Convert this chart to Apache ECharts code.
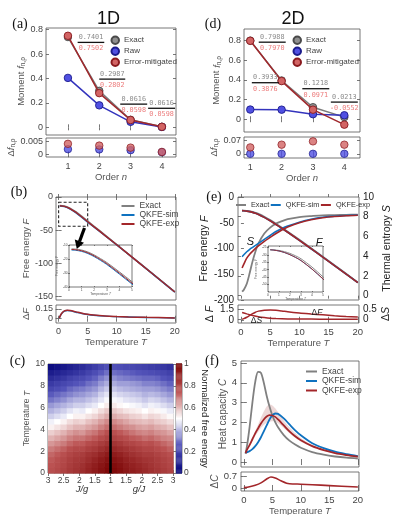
<!DOCTYPE html>
<html><head><meta charset="utf-8">
<script src="https://cdn.jsdelivr.net/npm/echarts@6.0.0/dist/echarts.min.js"></script>
<style>html,body{margin:0;padding:0;background:#fff}#c{width:397px;height:515px}</style>
</head><body><div id="c"></div>
<script>
// ---------- DATA ----------
const orders = [1, 2, 3, 4];
// (a) 1D moments
const exact1D = [0.7401, 0.2987, 0.0616, 0.004];
const raw1D = [0.405, 0.180, 0.045, 0.003];
const mitig1D = [0.7502, 0.2802, 0.0598, 0.004];
const dRaw1D = [0.0020, 0.0019, 0.0016, 0.0008];
const dMitig1D = [0.0041, 0.0034, 0.0026, 0.0009];
const labels1D = [['0.7401', '0.7502'], ['0.2987', '0.2802'], ['0.0616', '0.0598'], ['0.0616', '0.0598']];
// (d) 2D moments
const exact2D = [0.7988, 0.3933, 0.1218, 0.0213];
const raw2D = [0.098, 0.097, 0.051, 0.040];
const mitig2D = [0.7970, 0.3876, 0.0971, -0.0552];
const dRaw2D = [0.001, 0.001, 0.001, 0.001];
const dMitig2D = [0.034, 0.048, 0.065, 0.048];
const labels2D = [['0.7988', '0.7970'], ['0.3933', '0.3876'], ['0.1218', '0.0971'], ['0.0213', '-0.0552']];
// (b) 1D free energy
const temps1D = [0.2, 0.5, 1, 1.5, 2, 2.5, 3, 4, 5, 6, 7, 8, 10, 12, 14, 16, 18, 20];
const fExact1D = [-12.8, -12.9, -13.6, -15.0, -17.1, -19.7, -22.5, -29.2, -36.2, -43.3, -50.4, -57.5, -71.6, -85.8, -100.0, -114.2, -128.5, -142.8];
const fExp1D = [-13.2, -13.35, -14.1, -15.6, -17.75, -20.4, -23.3, -30.1, -37.2, -44.2, -51.1, -58.0, -71.9, -86.0, -100.2, -114.4, -128.7, -143.0];
const fSim1D = [-13.6, -13.75, -14.55, -16.1, -18.3, -21.0, -23.9, -30.8, -37.9, -44.7, -51.5, -58.3, -72.1, -86.1, -100.3, -114.5, -128.8, -143.1];
const tempsDF1D = [0.1, 0.5, 1, 1.5, 2, 3, 4, 5, 6, 8, 10, 12, 15, 20];
const dFExp1D = [0.01, 0.08, 0.12, 0.13, 0.125, 0.105, 0.085, 0.068, 0.056, 0.042, 0.034, 0.028, 0.021, 0.013];
const dFSim1D = [0.01, 0.075, 0.115, 0.125, 0.12, 0.10, 0.08, 0.065, 0.054, 0.04, 0.032, 0.027, 0.02, 0.012];
// (e) 2D free energy and entropy
const temps2D = [0.2, 0.5, 1, 1.5, 2, 2.5, 3, 4, 5, 6, 7, 8, 10, 12, 14, 16, 18, 20];
const fExact2D = [-26.5, -26.6, -27.0, -27.8, -29.0, -30.6, -32.6, -38.2, -44.8, -52.0, -59.5, -67.3, -83.2, -99.6, -116.0, -132.6, -149.2, -165.9];
const fExp2D = [-26.55, -26.75, -27.35, -28.4, -29.85, -31.65, -33.8, -39.53, -46.16, -53.32, -60.72, -68.4, -84.13, -100.4, -116.68, -133.15, -149.65, -166.27];
const fSim2D = [-26.55, -26.76, -27.37, -28.43, -29.89, -31.7, -33.86, -39.6, -46.23, -53.39, -60.78, -68.46, -84.18, -100.44, -116.71, -133.18, -149.67, -166.29];
const sExact2D = [0.4, 0.6, 1.2, 2.3, 3.5, 4.5, 5.3, 6.3, 6.9, 7.3, 7.55, 7.75, 7.97, 8.07, 8.13, 8.17, 8.19, 8.21];
const sSim2D = [3.95, 4.15, 4.45, 4.7, 4.9, 5.1, 5.3, 5.7, 6.1, 6.5, 6.8, 7.05, 7.45, 7.75, 7.95, 8.05, 8.12, 8.17];
const sExp2D = [2.8, 3.2, 3.8, 4.2, 4.5, 4.8, 5.05, 5.5, 5.9, 6.3, 6.65, 6.95, 7.4, 7.7, 7.9, 8.02, 8.1, 8.15];
const dF2D = [0.05, 0.15, 0.35, 0.6, 0.85, 1.05, 1.2, 1.33, 1.36, 1.32, 1.22, 1.1, 0.93, 0.8, 0.68, 0.55, 0.45, 0.37];
const tempsDS2D = [0.2, 1, 2, 3, 4, 5, 6, 8, 10, 12, 15, 20];
const dS2D = [0.33, 0.27, 0.2, 0.14, 0.1, 0.07, 0.055, 0.04, 0.035, 0.03, 0.027, 0.025];
// (c) normalized free energy map: columns of rows (T = tempRows)
const tempRows = [0.25, 0.75, 1.25, 1.75, 2.25, 2.75, 3.25, 3.75, 4.25, 4.75, 5.25, 5.75, 6.25, 6.75, 7.25, 7.75, 8.25, 8.75, 9.25, 9.75];
const ratioLeft = [2.9, 2.7, 2.5, 2.3, 2.1, 1.9, 1.7, 1.5, 1.3, 1.1];   // J/g
const ratioRight = [1.1, 1.3, 1.5, 1.7, 1.9, 2.1, 2.3, 2.5, 2.7, 2.9];  // g/J
const heatLeft = [
  [.76,.75,.74,.72,.69,.65,.61,.57,.52,.48,.43,.39,.35,.30,.26,.21,.17,.12,.07,.02],
  [.78,.77,.76,.74,.71,.67,.63,.59,.54,.50,.45,.41,.37,.32,.28,.23,.19,.14,.09,.04],
  [.80,.79,.78,.76,.73,.69,.65,.61,.56,.52,.47,.43,.39,.34,.30,.25,.21,.16,.11,.06],
  [.83,.82,.81,.79,.76,.72,.68,.64,.59,.55,.50,.46,.41,.37,.32,.28,.23,.19,.13,.08],
  [.85,.84,.83,.81,.78,.74,.70,.66,.61,.57,.52,.48,.43,.39,.34,.30,.25,.21,.15,.10],
  [.87,.86,.84,.82,.78,.74,.70,.65,.61,.56,.52,.47,.43,.39,.35,.31,.26,.22,.17,.12],
  [.90,.89,.87,.85,.81,.77,.72,.68,.63,.59,.54,.50,.45,.41,.37,.33,.29,.25,.20,.15],
  [.93,.92,.90,.87,.83,.79,.74,.70,.65,.61,.56,.52,.47,.43,.39,.35,.31,.27,.23,.18],
  [.96,.95,.93,.90,.86,.82,.77,.73,.68,.64,.59,.55,.50,.46,.43,.39,.35,.31,.26,.21],
  [.99,.98,.96,.93,.89,.85,.80,.76,.71,.67,.62,.58,.53,.49,.46,.42,.38,.34,.29,.24]
];
const heatRight = [
  [.99,.98,.96,.93,.89,.85,.80,.76,.71,.67,.62,.58,.53,.49,.46,.42,.38,.34,.29,.24],
  [.97,.96,.94,.91,.87,.83,.78,.74,.69,.65,.60,.56,.51,.48,.44,.40,.36,.32,.28,.23],
  [.94,.93,.91,.88,.85,.80,.76,.72,.67,.63,.59,.54,.50,.46,.43,.39,.36,.31,.27,.22],
  [.92,.91,.89,.86,.83,.79,.74,.70,.66,.61,.57,.53,.49,.45,.42,.38,.35,.30,.26,.21],
  [.90,.89,.87,.84,.81,.77,.73,.68,.64,.60,.56,.52,.48,.44,.41,.37,.34,.29,.25,.20],
  [.88,.87,.85,.82,.79,.75,.71,.67,.63,.59,.54,.50,.46,.42,.39,.36,.32,.28,.24,.19],
  [.86,.85,.84,.82,.79,.76,.72,.68,.64,.60,.56,.52,.48,.44,.40,.36,.32,.28,.23,.18],
  [.84,.83,.82,.80,.77,.74,.70,.66,.62,.58,.55,.51,.47,.43,.39,.35,.31,.27,.22,.17],
  [.82,.81,.80,.78,.75,.72,.68,.65,.61,.57,.53,.49,.45,.41,.37,.33,.29,.25,.21,.16],
  [.80,.79,.78,.76,.73,.70,.67,.63,.59,.55,.51,.47,.43,.39,.35,.31,.27,.23,.19,.14]
];
// (f) heat capacity
const tempsC = [0.3, 0.6, 1, 1.5, 2, 2.5, 3, 3.5, 4, 4.5, 5, 5.5, 6, 7, 8, 9, 10, 12, 14, 16, 18, 20];
const cExact = [0.42, 0.9, 1.75, 3.0, 4.05, 4.55, 4.5, 4.0, 3.35, 2.8, 2.35, 2.02, 1.76, 1.36, 1.08, 0.88, 0.72, 0.5, 0.37, 0.28, 0.22, 0.18];
const cSim = [0.48, 0.5, 0.55, 0.65, 0.8, 1.0, 1.25, 1.55, 1.85, 2.15, 2.35, 2.45, 2.43, 2.2, 1.9, 1.6, 1.35, 0.95, 0.7, 0.52, 0.4, 0.3];
const cExp = [0.45, 0.65, 0.85, 1.15, 1.45, 1.7, 1.95, 2.15, 2.3, 2.37, 2.35, 2.28, 2.15, 1.85, 1.55, 1.3, 1.1, 0.8, 0.6, 0.45, 0.35, 0.27];
const cExpLow = [0.43, 0.62, 0.8, 1.07, 1.33, 1.52, 1.72, 1.87, 1.98, 2.04, 2.06, 2.04, 1.96, 1.72, 1.45, 1.22, 1.03, 0.76, 0.57, 0.43, 0.33, 0.25];
const cExpHigh = [0.47, 0.68, 0.9, 1.23, 1.57, 1.9, 2.25, 2.55, 2.8, 2.92, 2.86, 2.72, 2.52, 2.1, 1.76, 1.46, 1.21, 0.85, 0.64, 0.48, 0.37, 0.29];
const tempsDC = [0, 1, 2, 3, 4, 4.75, 5.5, 6.5, 7.5, 8, 10, 12, 15, 20];
const dC = [0.02, 0.07, 0.16, 0.3, 0.52, 0.64, 0.58, 0.42, 0.28, 0.25, 0.22, 0.19, 0.14, 0.06];

// ---------- HELPERS ----------
const zip = (xs, ys) => xs.map((x, i) => [x, ys[i]]);
const FONT = '"Liberation Sans", Arial, sans-serif';
const AXC = '#555';
const GRAY = '#808080', BLUE = '#0f72c0', RED = '#a3262a';

function nm(plain, ital, sub, fs, color) {
  let s = '{a|' + plain + '}';
  if (ital) s += '{i|' + ital + '}';
  if (sub) s += '{s|' + sub + '}';
  return { name: s, style: { fontSize: fs, color: color, fontFamily: FONT, rich: {
    a: { fontSize: fs, color: color, fontFamily: FONT },
    i: { fontSize: fs, color: color, fontStyle: 'italic', fontFamily: FONT },
    s: { fontSize: fs * 0.68, color: color, fontFamily: FONT, verticalAlign: 'bottom', padding: [fs * 0.45, 0, 0, 0] }
  } } };
}

function axis(o) {
  const a = {
    type: 'value', gridIndex: o.grid, min: o.min, max: o.max,
    axisLine: { show: false }, splitLine: { show: false },
    axisTick: { show: !!o.ticks, inside: true, length: o.tickLen || 3, lineStyle: { color: AXC, width: 0.8 } },
    axisLabel: { show: !!o.labels, fontSize: o.fs || 9, color: o.color || '#444', margin: o.margin != null ? o.margin : 4, fontFamily: FONT }
  };
  if (o.ticks) { a.axisTick.customValues = o.ticks; a.axisLabel.customValues = o.ticks; }
  if (o.fmt) a.axisLabel.formatter = o.fmt;
  if (o.position) a.position = o.position;
  if (o.show === false) a.show = false;
  if (o.name) {
    a.name = o.name.name; a.nameLocation = 'middle'; a.nameGap = o.nameGap;
    a.nameTextStyle = o.name.style;
    if (o.nameRotate != null) a.nameRotate = o.nameRotate;
  }
  return a;
}
// mirrored tick-only axis for the opposite side of a boxed frame
function mirror(o, pos) {
  return axis({ grid: o.grid, min: o.min, max: o.max, ticks: o.ticks, tickLen: o.tickLen, position: pos });
}

const grids = [
  { left: 46, top: 28, width: 130, height: 107 },   // 0 a
  { left: 46, top: 138, width: 130, height: 19 },   // 1 a delta
  { left: 244, top: 29, width: 116, height: 103 },  // 2 d
  { left: 244, top: 137, width: 116, height: 21 },  // 3 d delta
  { left: 56, top: 197, width: 120, height: 103 },  // 4 b
  { left: 56, top: 305, width: 120, height: 18 },   // 5 b delta
  { left: 69, top: 245, width: 63, height: 42, backgroundColor: '#fff' }, // 6 b inset
  { left: 238, top: 197, width: 121, height: 103 }, // 7 e
  { left: 238, top: 305, width: 121, height: 18 },  // 8 e delta
  { left: 268, top: 246, width: 55, height: 46, backgroundColor: '#fff' }, // 9 e inset
  { left: 48, top: 364, width: 125, height: 109 },  // 10 c
  { left: 176, top: 364, width: 6, height: 109 },   // 11 colorbar
  { left: 241, top: 361, width: 118, height: 106 }, // 12 f
  { left: 241, top: 472, width: 118, height: 19 }   // 13 f delta
].map(g => Object.assign({ show: true, borderColor: '#555', borderWidth: 0.8, backgroundColor: 'rgba(0,0,0,0)', containLabel: false, outerBoundsMode: 'none' }, g));

const ORD = [1, 2, 3, 4];
const TT = [0, 5, 10, 15, 20];
const nmOrder = nm('Order ', 'n', '', 9.5, '#555');
const nmTemp = nm('Temperature ', 'T', '', 9.5, '#555');
const nmTempTiny = nm('Temperature ', 'T', '', 3.2, '#555');
const nmFTiny = nm('Free energy ', 'F', '', 3.2, '#555');

const xDefs = [
  { grid: 0, min: 0.3, max: 4.45, ticks: ORD },
  { grid: 1, min: 0.3, max: 4.45, ticks: ORD, labels: true, margin: 5, name: nmOrder, nameGap: 13 },
  { grid: 2, min: 0.8, max: 4.5, ticks: ORD },
  { grid: 3, min: 0.8, max: 4.5, ticks: ORD, labels: true, margin: 5, name: nmOrder, nameGap: 12 },
  { grid: 4, min: -0.45, max: 20.2, ticks: TT },
  { grid: 5, min: -0.45, max: 20.2, ticks: TT, labels: true, margin: 4, name: nmTemp, nameGap: 12 },
  { grid: 6, min: 0, max: 5, ticks: [0, 1, 2, 3, 4, 5], labels: true, fs: 3.2, margin: 1.5, tickLen: 1, name: nmTempTiny, nameGap: 5 },
  { grid: 7, min: -0.5, max: 20.2, ticks: TT },
  { grid: 8, min: -0.5, max: 20.2, ticks: TT, labels: true, margin: 4, fs: 9.5, name: nmTemp, nameGap: 12 },
  { grid: 9, min: 0, max: 5, ticks: [0, 1, 2, 3, 4, 5], labels: true, fs: 3.2, margin: 1.5, tickLen: 1, name: nmTempTiny, nameGap: 5 },
  { grid: 10, min: -2, max: 2, ticks: [-2, -1.5, -1, -0.5, 0, 0.5, 1, 1.5, 2], labels: true, fs: 8.5, margin: 3, fmt: v => String(1 + Math.abs(v)) },
  { grid: 11, min: 0, max: 1, show: false },
  { grid: 12, min: -0.5, max: 20.2, ticks: TT },
  { grid: 13, min: -0.5, max: 20.2, ticks: TT, labels: true, margin: 4, fs: 9.5, name: nmTemp, nameGap: 12 }
];

const nmMoment = nm('Moment ', 'f', 'n,ρ', 9.5, '#555');
const nmDMoment = nm('Δ', 'f', 'n,ρ', 9.5, '#555');
const yDefs = [
  { grid: 0, min: -0.063, max: 0.814, ticks: [0, 0.2, 0.4, 0.6, 0.8], labels: true, margin: 3, name: nmMoment, nameGap: 16 },
  { grid: 1, min: -0.0011, max: 0.0064, ticks: [0, 0.005], labels: true, margin: 3, name: nmDMoment, nameGap: 20 },
  { grid: 2, min: -0.13, max: 0.917, ticks: [0, 0.2, 0.4, 0.6, 0.8], labels: true, margin: 3, name: nmMoment, nameGap: 22 },
  { grid: 3, min: -0.0206, max: 0.0875, ticks: [0, 0.07], labels: true, margin: 3, name: nmDMoment, nameGap: 22 },
  { grid: 4, min: -155, max: 0, ticks: [-150, -100, -50, 0], labels: true, margin: 3, name: nm('Free energy ', 'F', '', 9.5, '#555'), nameGap: 25 },
  { grid: 5, min: -0.065, max: 0.21, ticks: [0, 0.15], labels: true, margin: 3, name: nm('Δ', 'F', '', 9.5, '#555'), nameGap: 25 },
  { grid: 6, min: -40, max: -10, ticks: [-40, -30, -20, -10], labels: true, fs: 3.2, margin: 1.5, tickLen: 1, name: nmFTiny, nameGap: 7 },
  { grid: 7, min: -200, max: 0, ticks: [-200, -150, -100, -50, 0], labels: true, fs: 10, color: '#222', margin: 4, name: nm('Free energy ', 'F', '', 10.5, '#222'), nameGap: 22 },
  { grid: 7, min: -0.44, max: 10, ticks: [0, 2, 4, 6, 8, 10], labels: true, fs: 10, color: '#222', margin: 4, position: 'right', name: nm('Thermal entropy ', 'S', '', 10.5, '#222'), nameGap: 23 },
  { grid: 8, min: -0.45, max: 2.05, ticks: [0, 1.5], labels: true, fs: 10, color: '#222', margin: 4, name: nm('Δ ', 'F', '', 10.5, '#222'), nameGap: 22 },
  { grid: 8, min: -0.15, max: 0.68, ticks: [0, 0.5], labels: true, fs: 10, color: '#222', margin: 4, position: 'right', name: nm('Δ', 'S', '', 10.5, '#222'), nameGap: 22 },
  { grid: 9, min: -55, max: -24, ticks: [-50, -45, -40, -35, -30, -25], labels: true, fs: 3.2, margin: 1.5, tickLen: 1, name: nmFTiny, nameGap: 7 },
  { grid: 10, min: 0, max: 10, ticks: [0, 2, 4, 6, 8, 10], labels: true, fs: 8.5, margin: 3, name: nm('Temperature ', 'T', '', 8.5, '#555'), nameGap: 11 },
  { grid: 11, min: 0, max: 1, ticks: [0, 0.2, 0.4, 0.6, 0.8, 1], labels: true, fs: 8.5, margin: 2, position: 'right', name: nm('Normalized free energy', '', '', 9.5, '#222'), nameGap: 15, nameRotate: -90 },
  { grid: 12, min: -0.25, max: 5.1, ticks: [0, 1, 2, 3, 4, 5], labels: true, fs: 9.5, margin: 4, name: nm('Heat capacity ', 'C', '', 10, '#555'), nameGap: 6 },
  { grid: 13, min: -0.175, max: 0.93, ticks: [0, 0.7], labels: true, fs: 9.5, margin: 4, name: nm('Δ', 'C', '', 10, '#555'), nameGap: 20 }
];
const xAxes = xDefs.map(axis);
const yAxes = yDefs.map(axis);
// box ticks on the opposite sides (top / right), as in the boxed frames of the figure
xDefs.forEach(d => { if (d.ticks && d.grid !== 11) xAxes.push(mirror(d, 'top')); });
yDefs.forEach(d => { if (d.ticks && !d.position && d.grid !== 7 && d.grid !== 8 && d.grid !== 11) yAxes.push(mirror(d, 'right')); });

// marker styles
const MK = {
  'Exact': { line: '#7a7a7a', fill: '#8f8f8f', edge: '#4a4a4a' },
  'Raw': { line: '#3434bd', fill: '#5050e2', edge: '#1c1c8c' },
  'Error-mitigated': { line: '#a0282c', fill: '#d26464', edge: '#8a1a1e' }
};
function momentLine(name, xi, yi, data, z) {
  const m = MK[name];
  return { type: 'line', name, xAxisIndex: xi, yAxisIndex: yi, data, symbol: 'circle', symbolSize: 7.5, z,
    lineStyle: { color: m.line, width: 1.5 }, itemStyle: { color: m.fill, borderColor: m.edge, borderWidth: 0.9 } };
}
function momentDots(name, xi, yi, data, z) {
  const m = MK[name];
  return { type: 'scatter', name, xAxisIndex: xi, yAxisIndex: yi, data, symbol: 'circle', symbolSize: 7.5, z,
    itemStyle: { color: m.fill, borderColor: m.edge, borderWidth: 0.9 } };
}
const MONO = '6.8px "DejaVu Sans Mono", "Liberation Mono", monospace';
function annSeries(xi, yi, pos, labels) {
  return { type: 'custom', xAxisIndex: xi, yAxisIndex: yi, silent: true, z: 6, clip: false,
    data: pos.map((p, i) => [p[0], p[1], p[2], i]),
    renderItem(params, api) {
      const a = api.coord([api.value(0), api.value(2)]);
      const b = api.coord([api.value(1), api.value(2)]);
      const i = api.value(3); const cx = (a[0] + b[0]) / 2;
      return { type: 'group', children: [
        { type: 'line', shape: { x1: a[0], y1: a[1], x2: b[0], y2: b[1] }, style: { stroke: '#111', lineWidth: 1.3 } },
        { type: 'text', style: { x: cx, y: a[1] - 1.8, text: labels[i][0], fill: '#8a8a8a', font: MONO, align: 'center', verticalAlign: 'bottom' } },
        { type: 'text', style: { x: cx, y: a[1] + 2.8, text: labels[i][1], fill: '#ec7b7b', font: MONO, align: 'center', verticalAlign: 'top' } }
      ] };
    } };
}
function curve(name, xi, yi, data, color, width, z, smooth) {
  return { type: 'line', name, xAxisIndex: xi, yAxisIndex: yi, data, showSymbol: false, symbol: 'none',
    smooth: smooth || false, z, lineStyle: { color, width: width || 1.6 }, itemStyle: { color } };
}
function band(xi, yi, xs, lo, hi, fill) {
  return { type: 'custom', xAxisIndex: xi, yAxisIndex: yi, silent: true, z: 1, data: [[xs[0], lo[0]]],
    renderItem(params, api) {
      const top = xs.map((x, i) => api.coord([x, hi[i]]));
      const bot = xs.map((x, i) => api.coord([x, lo[i]])).reverse();
      return { type: 'polygon', shape: { points: top.concat(bot), smooth: 0.2 }, style: { fill } };
    } };
}

const series = [];
// (a)
series.push(momentLine('Exact', 0, 0, zip(orders, exact1D), 3));
series.push(momentLine('Raw', 0, 0, zip(orders, raw1D), 4));
series.push(momentLine('Error-mitigated', 0, 0, zip(orders, mitig1D), 5));
series.push(momentDots('Raw', 1, 1, zip(orders, dRaw1D), 4));
series.push(momentDots('Error-mitigated', 1, 1, zip(orders, dMitig1D), 5));
series.push(annSeries(0, 0, [[1.31, 2.16, 0.696], [2.0, 2.83, 0.395], [2.67, 3.53, 0.19], [3.56, 4.42, 0.156]], labels1D));
// (d)
series.push(momentLine('Exact', 2, 2, zip(orders, exact2D), 3));
series.push(momentLine('Raw', 2, 2, zip(orders, raw2D), 4));
series.push(momentLine('Error-mitigated', 2, 2, zip(orders, mitig2D), 5));
series.push(momentDots('Raw', 3, 3, zip(orders, dRaw2D), 4));
series.push(momentDots('Error-mitigated', 3, 3, zip(orders, dMitig2D), 5));
series.push(annSeries(2, 2, [[1.27, 2.13, 0.783], [1.05, 1.91, 0.371], [2.66, 3.52, 0.31], [3.57, 4.43, 0.174]], labels2D));
// (b)
const fb = curve('Exact', 4, 4, zip(temps1D, fExact1D), GRAY, 1.6, 3);
fb.markArea = { silent: true, itemStyle: { color: 'rgba(0,0,0,0)', borderColor: '#222', borderWidth: 1.1, borderType: [3, 2] },
  data: [[{ coord: [0, -8] }, { coord: [5, -44] }]] };
series.push(fb);
series.push(curve('QKFE-sim', 4, 4, zip(temps1D, fSim1D), BLUE, 1.4, 4));
series.push(curve('QKFE-exp', 4, 4, zip(temps1D, fExp1D), RED, 1.5, 5));
series.push(curve('QKFE-sim', 5, 5, zip(tempsDF1D, dFSim1D), BLUE, 1.4, 4, 0.3));
series.push(curve('QKFE-exp', 5, 5, zip(tempsDF1D, dFExp1D), RED, 1.5, 5, 0.3));
series.push(curve('Exact', 6, 6, zip(temps1D, fExact1D), GRAY, 1, 7, 0.3));
series.push(curve('QKFE-sim', 6, 6, zip(temps1D, fSim1D), BLUE, 1, 7, 0.3));
series.push(curve('QKFE-exp', 6, 6, zip(temps1D, fExp1D), RED, 1, 7, 0.3));
// (e)
series.push(curve('Exact', 7, 7, zip(temps2D, fExact2D), GRAY, 1.8, 3, 0.2));
series.push(curve('QKFE-sim', 7, 7, zip(temps2D, fSim2D), BLUE, 1.6, 4, 0.2));
series.push(curve('QKFE-exp', 7, 7, zip(temps2D, fExp2D), RED, 1.6, 5, 0.2));
series.push(curve('Exact', 7, 8, zip(temps2D, sExact2D), GRAY, 1.8, 3, 0.3));
series.push(curve('QKFE-sim', 7, 8, zip(temps2D, sSim2D), BLUE, 1.6, 4, 0.3));
series.push(curve('QKFE-exp', 7, 8, zip(temps2D, sExp2D), RED, 1.6, 5, 0.3));
series.push(curve('QKFE-exp', 8, 9, zip(temps2D, dF2D), RED, 1.5, 5, 0.3));
series.push(curve('QKFE-exp', 8, 10, zip(tempsDS2D, dS2D), RED, 1.5, 5, 0.3));
series.push(curve('Exact', 9, 11, zip(temps2D, fExact2D), GRAY, 0.9, 7, 0.3));
series.push(curve('QKFE-sim', 9, 11, zip(temps2D, fSim2D), BLUE, 0.9, 7, 0.3));
series.push(curve('QKFE-exp', 9, 11, zip(temps2D, fExp2D), RED, 0.9, 7, 0.3));
// (c)
const heatData = [];
ratioLeft.forEach((r, c) => tempRows.forEach((t, k) => heatData.push([-(r - 1), t, heatLeft[c][k]])));
ratioRight.forEach((r, c) => tempRows.forEach((t, k) => heatData.push([r - 1, t, heatRight[c][k]])));
const heatIdx = series.length;
series.push({ type: 'custom', xAxisIndex: 10, yAxisIndex: 12, silent: true, z: 2, data: heatData,
  encode: { x: 0, y: 1 },
  renderItem(params, api) {
    const a = api.coord([api.value(0) - 0.1, api.value(1) + 0.25]);
    const b = api.coord([api.value(0) + 0.1, api.value(1) - 0.25]);
    return { type: 'rect', shape: { x: a[0], y: a[1], width: b[0] - a[0] + 0.6, height: b[1] - a[1] + 0.6 }, style: { fill: api.visual('color') } };
  } });
series.push({ type: 'line', xAxisIndex: 10, yAxisIndex: 12, data: [[0, 0], [0, 10]], symbol: 'none', z: 5, silent: true,
  lineStyle: { color: '#000', width: 2.6 } });
const cbarIdx = series.length;
const cbarSteps = [];
for (let k = 0; k <= 100; k++) cbarSteps.push([0.5, k / 100, k / 100]);
series.push({ type: 'custom', xAxisIndex: 11, yAxisIndex: 13, silent: true, data: cbarSteps, encode: { x: 0, y: 1 },
  renderItem(params, api) {
    const a = api.coord([0, api.value(1) + 0.006]);
    const b = api.coord([1, api.value(1) - 0.006]);
    return { type: 'rect', shape: { x: a[0], y: a[1], width: b[0] - a[0], height: b[1] - a[1] }, style: { fill: api.visual('color') } };
  } });
// (f)
series.push(band(12, 14, tempsC, cExpLow, cExpHigh, 'rgba(200,135,135,0.32)'));
series.push(curve('Exact', 12, 14, zip(tempsC, cExact), GRAY, 1.8, 3, 0.3));
series.push(curve('QKFE-sim', 12, 14, zip(tempsC, cSim), BLUE, 1.8, 4, 0.3));
series.push(curve('QKFE-exp', 12, 14, zip(tempsC, cExp), RED, 1.8, 5, 0.3));
series.push(curve('QKFE-exp', 13, 15, zip(tempsDC, dC), RED, 1.6, 5, 0.3));

// legends
const circLeg = (left, top) => ({ left, top, orient: 'vertical', icon: 'circle', itemWidth: 7.5, itemHeight: 7.5, itemGap: 1.5, itemTextGap: 3,
  selectedMode: false, padding: 0, data: ['Exact', 'Raw', 'Error-mitigated'],
  textStyle: { fontSize: 8, color: '#444', fontFamily: FONT, lineHeight: 8 } });
const lineLegItems = [
  { name: 'Exact', itemStyle: { color: GRAY, borderWidth: 0 } },
  { name: 'QKFE-sim', itemStyle: { color: BLUE, borderWidth: 0 } },
  { name: 'QKFE-exp', itemStyle: { color: RED, borderWidth: 0 } }
];
const lineLeg = (o) => Object.assign({ icon: 'rect', itemHeight: 2, selectedMode: false, padding: 0, data: lineLegItems,
  textStyle: { fontSize: 8.5, color: '#444', fontFamily: FONT, lineHeight: 9 } }, o);
const legend = [
  circLeg(110.5, 35.5),
  circLeg(292.5, 35.5),
  lineLeg({ left: 121.5, top: 201.5, orient: 'vertical', itemWidth: 13, itemGap: 0, itemTextGap: 2 }),
  lineLeg({ left: 236, top: 201.5, orient: 'horizontal', itemWidth: 10, itemGap: 1.5, itemTextGap: 1.5, textStyle: { fontSize: 7.3, color: '#333', fontFamily: FONT } }),
  lineLeg({ left: 306, top: 367, orient: 'vertical', itemWidth: 11, itemGap: 0.5, itemTextGap: 2 })
];

// annotations drawn as text / shapes
const T = (x, y, text, font, fill) => ({ type: 'text', x, y, silent: true, z: 20,
  style: { text, font, fill: fill || '#111', align: 'center', verticalAlign: 'middle' } });
const SERIF = '14px "Liberation Serif", "Times New Roman", serif';
const richD = (x, y, letter) => ({ type: 'text', x, y, silent: true, z: 20, style: { text: '{a|Δ}{i|' + letter + '}', align: 'center', verticalAlign: 'middle',
  rich: { a: { fontSize: 8.5, fill: '#222', fontFamily: FONT }, i: { fontSize: 8.5, fontStyle: 'italic', fill: '#222', fontFamily: FONT } } } });
const graphic = [
  T(108.5, 19, '1D', '18px "Liberation Sans", Arial, sans-serif'),
  T(293, 19, '2D', '18px "Liberation Sans", Arial, sans-serif'),
  T(20, 24, '(a)', SERIF), T(213, 24, '(d)', SERIF),
  T(19, 192.5, '(b)', SERIF), T(214, 197, '(e)', SERIF),
  T(17.5, 361, '(c)', SERIF), T(212, 361, '(f)', SERIF),
  T(250.5, 242, 'S', 'italic 11px "Liberation Sans", Arial, sans-serif'),
  T(319, 243, 'F', 'italic 11px "Liberation Sans", Arial, sans-serif'),
  richD(256.5, 320.5, 'S'), richD(317, 312.5, 'F'),
  T(82, 489.5, 'J/g', 'italic 9.5px "Liberation Sans", Arial, sans-serif', '#333'),
  T(139, 489.5, 'g/J', 'italic 9.5px "Liberation Sans", Arial, sans-serif', '#333'),
  { type: 'group', silent: true, z: 20, children: [
    { type: 'line', shape: { x1: 84.5, y1: 228, x2: 79.5, y2: 241.5 }, style: { stroke: '#000', lineWidth: 3.2 } },
    { type: 'polygon', shape: { points: [[76.8, 249], [84, 242.8], [74.8, 239.4]] }, style: { fill: '#000' } }
  ] }
];

const option = {
  animation: false,
  textStyle: { fontFamily: FONT },
  grid: grids, xAxis: xAxes, yAxis: yAxes, series, legend, graphic,
  visualMap: { type: 'continuous', show: false, min: 0, max: 1, dimension: 2, seriesIndex: [heatIdx, cbarIdx],
    inRange: { color: ['#06067a', '#5353b9', '#ffffff', '#bb5252', '#7c0606'] } }
};
const chart = echarts.init(document.getElementById('c'), null, { renderer: 'canvas' });
chart.setOption(option);
</script></body></html>
